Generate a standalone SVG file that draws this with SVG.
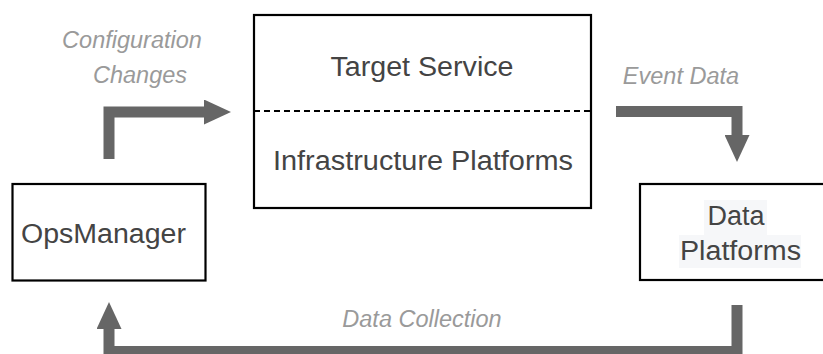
<svg xmlns="http://www.w3.org/2000/svg" width="823" height="354" viewBox="0 0 823 354">
  <defs>
    <marker id="head" markerUnits="userSpaceOnUse" markerWidth="27" markerHeight="25" refX="0" refY="12.5" orient="auto">
      <path d="M0,0 L27,12.5 L0,25 z" fill="#666666"/>
    </marker>
    <style>
      .box { fill: #ffffff; stroke: #000000; stroke-width: 2.2; }
      .main { font-family: "Liberation Sans", Arial, sans-serif; font-size: 27px; fill: #444444; }
      .label { font-family: "Liberation Sans", Arial, sans-serif; font-size: 23.5px; font-style: italic; fill: #9a9a9a; }
      .flow { fill: none; stroke: #666666; stroke-width: 11; stroke-linejoin: miter; marker-end: url(#head); }
      .hl { fill: #f6f7f9; }
    </style>
  </defs>
  <rect width="823" height="354" fill="#ffffff"/>

  <!-- connectors -->
  <g id="connectors">
    <polyline class="flow" points="109,159 109,112 204,112"/>
    <polyline class="flow" points="616,111.5 737,111.5 737,135"/>
    <polyline class="flow" points="737,305 737,351.5 109,351.5 109,329"/>
    <text class="label" x="132" y="48" text-anchor="middle">Configuration</text>
    <text class="label" x="140" y="83" text-anchor="middle">Changes</text>
    <text class="label" x="681" y="84" text-anchor="middle">Event Data</text>
    <text class="label" x="422" y="327" text-anchor="middle">Data Collection</text>
  </g>

  <!-- target service stacked on infrastructure -->
  <g id="target-service">
    <rect class="box" x="254" y="15" width="337" height="193"/>
    <line x1="254" y1="111" x2="591" y2="111" stroke="#000000" stroke-width="2" stroke-dasharray="6,4"/>
    <text class="main" x="422" y="76" text-anchor="middle" textLength="183" lengthAdjust="spacingAndGlyphs">Target Service</text>
    <text class="main" x="423" y="170" text-anchor="middle" textLength="300" lengthAdjust="spacingAndGlyphs">Infrastructure Platforms</text>
  </g>

  <g id="ops-manager">
    <rect class="box" x="12.5" y="184" width="193" height="96.5"/>
    <text class="main" x="103.5" y="243" text-anchor="middle" textLength="165" lengthAdjust="spacingAndGlyphs">OpsManager</text>
  </g>

  <g id="data-platforms">
    <rect class="box" x="640" y="184" width="200" height="96"/>
    <rect class="hl" x="704" y="200" width="63" height="35"/>
    <rect class="hl" x="679" y="235" width="122" height="33"/>
    <text class="main" x="736" y="225" text-anchor="middle">Data</text>
    <text class="main" x="740.5" y="260" text-anchor="middle" textLength="121" lengthAdjust="spacingAndGlyphs">Platforms</text>
  </g>
</svg>
